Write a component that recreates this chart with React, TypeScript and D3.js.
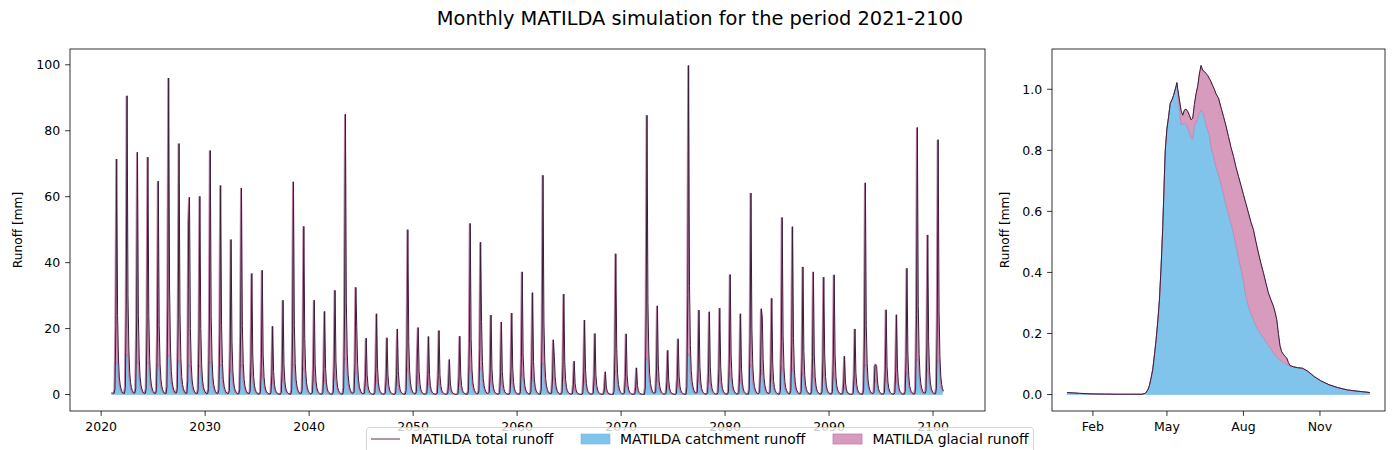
import { useEffect } from 'react';
import * as d3 from 'd3';

// ---- monthly simulation 2021-2100 (one value per year for the melt-season months) ----
const startYear = 2021;

// June total runoff (the yearly spike) [mm]
const juneTotal = [
  71.4, 90.6, 73.5, 72.0, 64.7, 96.0, 76.1, 59.8, 60.1, 74.0,
  63.4, 47.0, 62.6, 36.7, 37.7, 20.7, 28.6, 64.5, 51.0, 28.6,
  25.2, 31.6, 85.0, 32.5, 17.1, 24.5, 17.2, 19.9, 50.0, 20.3,
  17.6, 19.4, 10.6, 17.7, 51.9, 46.2, 24.1, 22.0, 24.7, 37.2,
  30.9, 66.5, 16.6, 30.5, 10.1, 22.6, 18.5, 6.9, 42.7, 18.4,
  8.1, 84.7, 26.9, 13.4, 16.9, 99.8, 25.6, 25.1, 26.2, 36.4,
  24.5, 61.1, 26.0, 29.2, 53.7, 50.9, 38.7, 37.2, 35.6, 36.3,
  11.6, 19.9, 64.2, 9.1, 25.7, 24.2, 38.3, 81.0, 48.4, 77.3,
];

// May total runoff [mm]
const mayTotal = [
  21, 27, 22, 22, 19, 29, 23, 52, 18, 22,
  19, 14, 19, 11, 11, 6, 8.6, 19, 15, 8.6,
  7.6, 9.5, 25, 9.8, 5.1, 7.4, 5.2, 6, 15, 12,
  5.3, 5.8, 3.2, 5.3, 15.6, 13.9, 7.2, 6.6, 7.4, 11.2,
  9.3, 20, 5, 9.2, 3, 6.8, 5.6, 2.1, 12.8, 5.5,
  2.4, 25, 8, 4, 5.1, 30, 7.7, 7.5, 7.9, 10.9,
  7.4, 18.3, 7.8, 8.8, 16.1, 15.3, 11.6, 11.2, 10.7, 10.9,
  3.5, 6, 19.3, 8.6, 7.7, 7.3, 11.5, 24.3, 14.5, 23.2,
];

// July total runoff [mm]
const julyTotal = [
  24, 30, 24, 24, 21, 32, 25, 20, 20, 24,
  21, 16, 21, 12, 12, 7, 9, 21, 17, 9,
  8, 10, 28, 20.3, 6, 8, 6, 7, 16, 7,
  6, 6, 3.5, 6, 17, 22.2, 8, 7, 8, 12,
  10, 22, 11.6, 10, 3.3, 7.5, 6, 2.3, 14, 6,
  2.7, 28, 9, 4.4, 5.6, 33, 8.5, 8.3, 8.6, 12,
  8, 20, 23.5, 9.6, 18, 17, 13, 12, 12, 12,
  3.8, 6.6, 21, 8.5, 8.5, 8, 12.6, 27, 16, 25.5,
];

// June catchment (non-glacial) runoff [mm]
const juneCatchment = [
  9.7, 12.0, 9.9, 9.8, 9.2, 11.7, 10.1, 8.8, 8.8, 9.9,
  9.1, 7.8, 9.0, 6.9, 7.0, 5.7, 6.3, 9.2, 8.1, 6.3,
  6.0, 6.5, 10.8, 6.6, 5.4, 6.0, 5.4, 5.6, 8.0, 5.6,
  5.4, 5.6, 4.8, 5.4, 8.2, 7.7, 5.9, 5.8, 6.0, 7.0,
  6.5, 9.3, 5.3, 6.4, 4.8, 5.8, 5.5, 4.5, 7.4, 5.5,
  4.6, 10.8, 6.2, 5.1, 5.4, 12.0, 6.0, 6.0, 6.1, 6.9,
  6.0, 8.9, 6.1, 6.3, 8.3, 8.1, 7.1, 7.0, 6.8, 6.9,
  4.9, 5.6, 9.1, 4.7, 6.1, 5.9, 7.1, 10.5, 7.9, 10.2,
];

// recession after July (Aug..Dec, share of July) and winter (Jan..Mar, share of previous July)
const recessionShare = [0.45, 0.22, 0.12, 0.07, 0.04];
const winterShare = [0.02, 0.015, 0.015];
const aprilShareOfMay = 0.08;
const catchmentShareMay = 0.45;
const catchmentShareJuly = 0.45;
const catchmentShareRest = 0.85;

// ---- mean annual cycle (day of year) ----
const climDoy = [
  0, 15, 30, 45, 60, 75, 90, 94, 97, 99, 101, 103, 105, 107, 109, 111, 113, 115, 117, 118,
  120, 122, 124, 126, 128, 130, 132, 133, 135, 137, 139, 141, 143, 145, 147, 149, 151, 153, 155, 157,
  159, 161, 163, 165, 167, 169, 171, 173, 175, 177, 179, 182, 185, 188, 191, 194, 197, 200, 203, 206,
  209, 212, 215, 218, 221, 224, 227, 230, 233, 236, 239, 242, 245, 248, 250, 252, 254, 256, 258, 260,
  262, 264, 266, 268, 272, 277, 283, 289, 297, 305, 315, 325, 337, 349, 364,
];
const climTotal = [
  0.0065, 0.004, 0.002, 0.0015, 0.001, 0.001, 0.001, 0.004, 0.015, 0.03, 0.055, 0.083, 0.13, 0.18, 0.24, 0.31, 0.42, 0.55, 0.72, 0.8,
  0.87, 0.91, 0.954, 0.965, 0.98, 1.0, 1.022, 1.0, 0.965, 0.93, 0.915, 0.932, 0.935, 0.927, 0.915, 0.9, 0.905, 0.95, 0.985, 1.01,
  1.05, 1.078, 1.062, 1.058, 1.052, 1.045, 1.035, 1.025, 1.012, 1.0, 0.985, 0.971, 0.94, 0.911, 0.88, 0.845, 0.81, 0.78, 0.745, 0.715,
  0.685, 0.655, 0.625, 0.595, 0.565, 0.54, 0.5, 0.464, 0.43, 0.399, 0.365, 0.333, 0.31, 0.29, 0.27, 0.246, 0.2, 0.159, 0.14, 0.132,
  0.125, 0.12, 0.105, 0.095, 0.091, 0.088, 0.086, 0.077, 0.059, 0.045, 0.032, 0.023, 0.015, 0.011, 0.0065,
];
const climCatchment = [
  0.006, 0.0035, 0.002, 0.0015, 0.001, 0.001, 0.001, 0.004, 0.015, 0.03, 0.055, 0.083, 0.13, 0.18, 0.24, 0.31, 0.42, 0.55, 0.72, 0.8,
  0.87, 0.91, 0.954, 0.965, 0.98, 1.0, 1.015, 0.99, 0.93, 0.885, 0.885, 0.889, 0.885, 0.872, 0.86, 0.84, 0.837, 0.88, 0.89, 0.905,
  0.92, 0.932, 0.925, 0.905, 0.885, 0.865, 0.85, 0.81, 0.79, 0.77, 0.745, 0.72, 0.69, 0.655, 0.62, 0.59, 0.56, 0.529, 0.49, 0.45,
  0.41, 0.37, 0.32, 0.29, 0.265, 0.246, 0.225, 0.21, 0.197, 0.185, 0.172, 0.162, 0.15, 0.137, 0.13, 0.122, 0.117, 0.113, 0.108, 0.104,
  0.101, 0.099, 0.097, 0.094, 0.091, 0.088, 0.086, 0.077, 0.059, 0.045, 0.032, 0.023, 0.015, 0.011, 0.0065,
];

const decadeTicks = [2020, 2030, 2040, 2050, 2060, 2070, 2080, 2090, 2100];
const runoffTicks = [0, 20, 40, 60, 80, 100];
const seasonTickMonths = [1, 4, 7, 10];
const climTicks = [0, 0.2, 0.4, 0.6, 0.8, 1.0];

const legendLabels = ['MATILDA total runoff', 'MATILDA catchment runoff', 'MATILDA glacial runoff'];

const BLUE = '#80c4ec';
const BLUE_EDGE = '#74b9e4';
const PINK = '#d79bbd';
const PINK_EDGE = '#c183aa';
const LINE = '#3c1d39';
const FONT = 'DejaVu Sans, sans-serif';

type Row = { date: Date; lineDate: Date; total: number; catchment: number };

// assemble the monthly table from the yearly arrays
const monthly: Row[] = [];
juneTotal.forEach((jun, i) => {
  const year = startYear + i;
  const may = mayTotal[i];
  const jul = julyTotal[i];
  const prevJul = i > 0 ? julyTotal[i - 1] : jul;
  const totals = [
    prevJul * winterShare[0], prevJul * winterShare[1], prevJul * winterShare[2],
    may * aprilShareOfMay, may, jun, jul,
    ...recessionShare.map(s => jul * s),
  ];
  totals.forEach((t, m) => {
    let c = t * catchmentShareRest;
    if (m === 4) c = Math.min(may * catchmentShareMay, juneCatchment[i]);
    if (m === 5) c = juneCatchment[i];
    if (m === 6) c = Math.min(jul * catchmentShareJuly, juneCatchment[i]);
    monthly.push({
      date: new Date(year, m, 1),
      lineDate: new Date(year, m + 1, 0), // the total line is stamped at month end
      total: t,
      catchment: Math.min(c, t),
    });
  });
});

const daily: Row[] = climDoy.map((d, i) => ({
  date: new Date(2001, 0, 1 + d),
  lineDate: new Date(2001, 0, 1 + d),
  total: climTotal[i],
  catchment: climCatchment[i],
}));

const W = 1400;
const H = 450;
const L = { left: 70, right: 985, top: 49, bottom: 411 };
const R = { left: 1052, right: 1385, top: 49, bottom: 411 };
const TICK = 4.9;
const TICK_FS = 12.5;

function padTime(d0: Date, d1: Date): [Date, Date] {
  const p = (+d1 - +d0) * 0.05;
  return [new Date(+d0 - p), new Date(+d1 + p)];
}
function padLinear(lo: number, hi: number): [number, number] {
  const p = (hi - lo) * 0.05;
  return [lo - p, hi + p];
}

type Box = typeof L;

function Panel({ box, data, x, y, xTicks, xFmt, yTicks, yFmt, lineWidth, pinkEdge, clipId, labelX }: {
  box: Box; data: Row[]; x: d3.ScaleTime<number, number>; y: d3.ScaleLinear<number, number>;
  xTicks: Date[]; xFmt: (d: Date) => string; yTicks: number[]; yFmt: (v: number) => string;
  lineWidth: number; pinkEdge: number; clipId: string; labelX: number;
}) {
  const catchArea = d3.area<Row>().x(d => x(d.date)).y0(() => y(0)).y1(d => y(d.catchment));
  const glacArea = d3.area<Row>().x(d => x(d.date)).y0(d => y(d.catchment)).y1(d => y(d.total));
  const line = d3.line<Row>().x(d => x(d.lineDate)).y(d => y(d.total));
  const midY = (box.top + box.bottom) / 2;
  return (
    <g>
      <defs>
        <clipPath id={clipId}>
          <rect x={box.left} y={box.top} width={box.right - box.left} height={box.bottom - box.top} />
        </clipPath>
      </defs>
      <g clipPath={`url(#${clipId})`}>
        <path d={catchArea(data) ?? ''} fill={BLUE} stroke={BLUE_EDGE} strokeWidth={0.6} />
        <path d={glacArea(data) ?? ''} fill={PINK} stroke={PINK_EDGE} strokeWidth={pinkEdge} />
        <path d={line(data) ?? ''} fill="none" stroke={LINE} strokeWidth={lineWidth} strokeLinejoin="round" />
      </g>
      <rect x={box.left} y={box.top} width={box.right - box.left} height={box.bottom - box.top}
        fill="none" stroke="#000" strokeWidth={0.8} />
      {xTicks.map(t => {
        const px = x(t);
        return (
          <g key={+t}>
            <line x1={px} x2={px} y1={box.bottom} y2={box.bottom + TICK} stroke="#000" strokeWidth={0.8} />
            <text x={px} y={box.bottom + TICK + 4.9} dy="0.8em" textAnchor="middle" fontSize={TICK_FS} fill="#000">
              {xFmt(t)}
            </text>
          </g>
        );
      })}
      {yTicks.map(v => {
        const py = y(v);
        return (
          <g key={v}>
            <line x1={box.left - TICK} x2={box.left} y1={py} y2={py} stroke="#000" strokeWidth={0.8} />
            <text x={box.left - TICK - 4.9} y={py} dy="0.36em" textAnchor="end" fontSize={TICK_FS} fill="#000">
              {yFmt(v)}
            </text>
          </g>
        );
      })}
      <text transform={`translate(${labelX},${midY}) rotate(-90)`} textAnchor="middle" fontSize={12.2} fill="#000">
        Runoff [mm]
      </text>
    </g>
  );
}

export default function App() {
  useEffect(() => {
    document.body.style.margin = '0';
  }, []);

  const xL = d3.scaleTime()
    .domain(padTime(monthly[0].date, monthly[monthly.length - 1].lineDate))
    .range([L.left, L.right]);
  const yL = d3.scaleLinear()
    .domain(padLinear(0, d3.max(monthly, d => d.total) as number))
    .range([L.bottom, L.top]);

  const xR = d3.scaleTime()
    .domain(padTime(daily[0].date, daily[daily.length - 1].date))
    .range([R.left, R.right]);
  const yR = d3.scaleLinear()
    .domain(padLinear(0, d3.max(daily, d => d.total) as number))
    .range([R.bottom, R.top]);

  const legendY = 439;

  return (
    <svg width={W} height={H} style={{ display: 'block', background: '#fff' }} fontFamily={FONT}>
      <rect width={W} height={H} fill="#fff" />
      <text x={700} y={25} textAnchor="middle" fontSize={19.4} fill="#000">
        Monthly MATILDA simulation for the period 2021-2100
      </text>
      <Panel box={L} data={monthly} x={xL} y={yL}
        xTicks={decadeTicks.map(yv => new Date(yv, 0, 1))} xFmt={d3.timeFormat('%Y')}
        yTicks={runoffTicks} yFmt={v => String(v)} lineWidth={1} pinkEdge={1.3} clipId="clipL" labelX={22} />
      <Panel box={R} data={daily} x={xR} y={yR}
        xTicks={seasonTickMonths.map(m => new Date(2001, m, 1))} xFmt={d3.timeFormat('%b')}
        yTicks={climTicks} yFmt={d3.format('.1f')} lineWidth={1} pinkEdge={0.8} clipId="clipR" labelX={1009} />

      {/* legend */}
      <g fontSize={13.9}>
        <rect x={366.5} y={427.5} width={667} height={34} rx={3} fill="#fff" fillOpacity={0.8} stroke="#cccccc" strokeWidth={0.8} />
        <line x1={371} x2={400} y1={legendY} y2={legendY} stroke={LINE} strokeWidth={0.9} />
        <text x={410.7} y={legendY} dy="0.36em" fill="#000">{legendLabels[0]}</text>
        <rect x={581} y={legendY - 5} width={29} height={10} fill={BLUE} stroke={BLUE_EDGE} strokeWidth={0.6} />
        <text x={620} y={legendY} dy="0.36em" fill="#000">{legendLabels[1]}</text>
        <rect x={833} y={legendY - 5} width={29} height={10} fill={PINK} stroke={PINK_EDGE} strokeWidth={0.8} />
        <text x={872.6} y={legendY} dy="0.36em" fill="#000">{legendLabels[2]}</text>
      </g>
    </svg>
  );
}
